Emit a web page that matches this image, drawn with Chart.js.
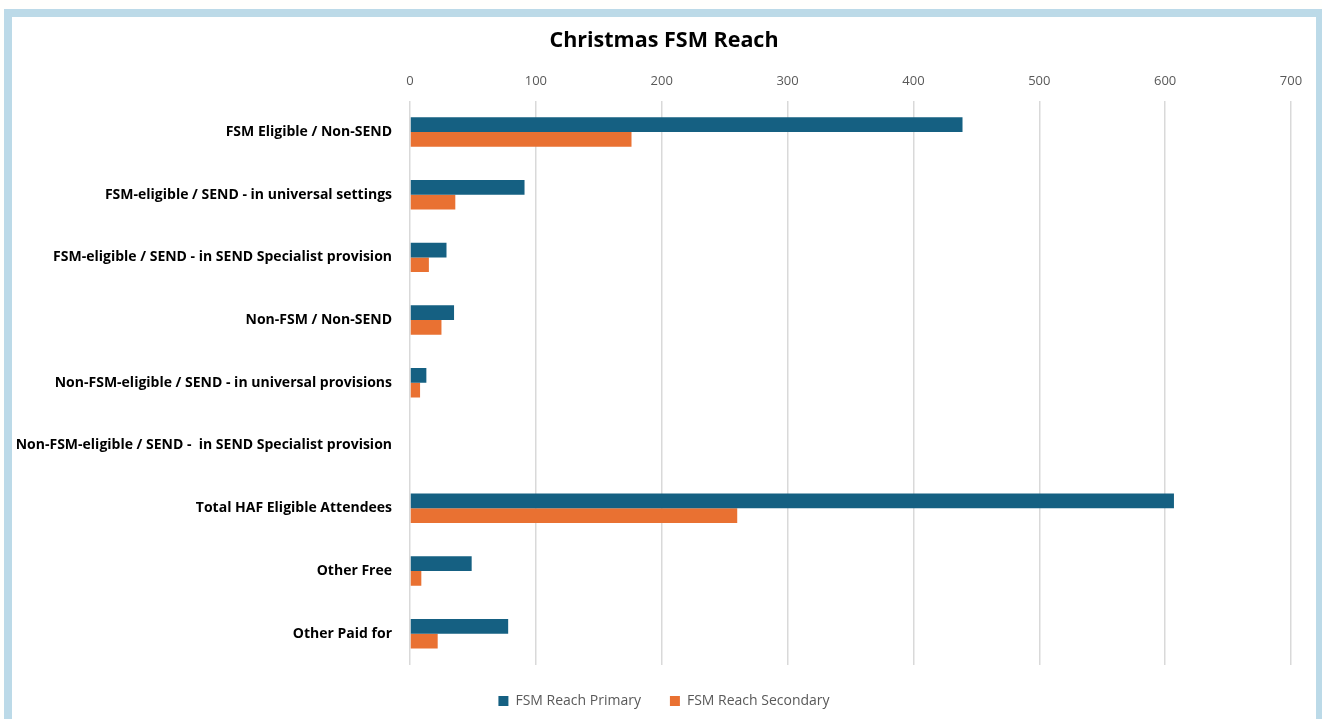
<!DOCTYPE html>
<html>
<head>
<meta charset="utf-8">
<script src="https://cdn.jsdelivr.net/npm/chart.js@4.4.1/dist/chart.umd.min.js"></script>
<style>
  html, body { margin: 0; padding: 0; background: #fffffd; overflow: hidden; }
  #frame {
    position: absolute; left: 4px; top: 9px;
    width: 1304px; height: 710px;
    border: 8px solid #bcdae8; border-bottom: none;
    background: #ffffff;
  }
  #wrap { position: relative; width: 1304px; height: 703px; }
</style>
</head>
<body>
<div id="frame"><div id="wrap"><canvas id="c"></canvas></div></div>
<script>
const categories = [
  "FSM Eligible / Non-SEND",
  "FSM-eligible / SEND - in universal settings",
  "FSM-eligible / SEND - in SEND Specialist provision",
  "Non-FSM / Non-SEND",
  "Non-FSM-eligible / SEND - in universal provisions",
  "Non-FSM-eligible / SEND -  in SEND Specialist provision",
  "Total HAF Eligible Attendees",
  "Other Free",
  "Other Paid for"
];
const primaryValues = [439, 91, 29, 35, 13, 0, 607, 49, 78];
const secondaryValues = [176, 36, 15, 25, 8, 0, 260, 9, 22];
const xTicks = [0, 100, 200, 300, 400, 500, 600, 700];
const seriesNames = ["FSM Reach Primary", "FSM Reach Secondary"];
const titleText = "Christmas FSM Reach";

const FONT = "'Open Sans', 'Liberation Sans', sans-serif";
const TITLE_SIZE = 21.5;

// Title centred on the whole canvas
const centredTitle = {
  id: 'centredTitle',
  afterDraw(chart) {
    const ctx = chart.ctx;
    ctx.save();
    ctx.font = 'bold ' + TITLE_SIZE + 'px ' + FONT;
    ctx.fillStyle = '#000000';
    ctx.textAlign = 'center';
    ctx.textBaseline = 'middle';
    ctx.fillText(titleText, chart.width / 2, 11 + TITLE_SIZE * 1.2 / 2);
    ctx.restore();
  }
};

new Chart(document.getElementById('c'), {
  type: 'bar',
  data: {
    labels: categories,
    datasets: [
      { label: seriesNames[0], data: primaryValues, backgroundColor: '#156082', borderWidth: 0,
        barPercentage: 1.0, categoryPercentage: 0.47 },
      { label: seriesNames[1], data: secondaryValues, backgroundColor: '#e97132', borderWidth: 0,
        barPercentage: 1.0, categoryPercentage: 0.47 }
    ]
  },
  plugins: [centredTitle],
  options: {
    indexAxis: 'y',
    responsive: true,
    maintainAspectRatio: false,
    animation: false,
    layout: { padding: { left: 0, right: 0, top: 44, bottom: 2 } },
    plugins: {
      title: { display: false },
      legend: {
        position: 'bottom',
        labels: {
          color: '#595959', font: { family: FONT, size: 14 },
          boxWidth: 10, boxHeight: 10, padding: 29
        }
      },
      tooltip: { enabled: false }
    },
    scales: {
      x: {
        position: 'top',
        min: 0, max: 700,
        afterBuildTicks: (axis) => { axis.ticks = xTicks.map(v => ({ value: v })); },
        ticks: { color: '#595959', font: { family: FONT, size: 13 }, padding: 12 },
        grid: { color: '#d9d9d9', lineWidth: 1.5, drawTicks: false },
        border: { display: false }
      },
      y: {
        afterFit: (axis) => { axis.width = 398; },
        ticks: { color: '#000000', font: { family: FONT, size: 14, weight: 'bold' }, padding: 18 },
        grid: { display: false, drawTicks: false },
        border: { display: false }
      },
      yRightSpace: {
        type: 'category',
        position: 'right',
        afterFit: (axis) => { axis.width = 25; },
        ticks: { display: false },
        grid: { display: false, drawTicks: false },
        border: { display: false }
      }
    }
  }
});
</script>
</body>
</html>
